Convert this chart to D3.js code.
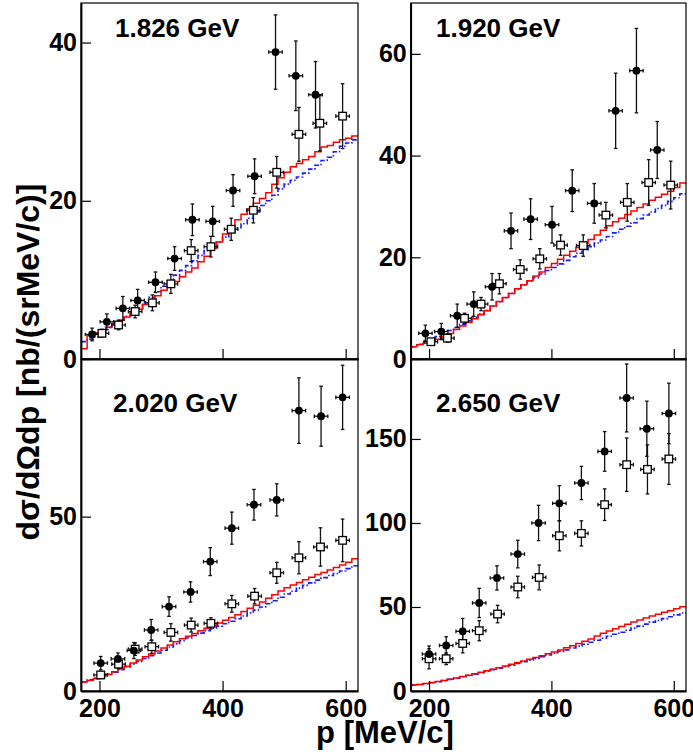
<!DOCTYPE html>
<html>
<head>
<meta charset="utf-8">
<script src="https://cdn.jsdelivr.net/npm/d3@7/dist/d3.min.js"></script>
<style>
  html, body { margin: 0; padding: 0; background: #fff; }
  svg text { font-family: "Liberation Sans", Arial, Helvetica, sans-serif; font-weight: bold; fill: #000; }
</style>
</head>
<body>
<svg id="chart" width="693" height="756"></svg>
<script>
// ---------- data ----------
const energies = ["1.826 GeV", "1.920 GeV", "2.020 GeV", "2.650 GeV"];
const xTicks = [200, 400, 600];
const yTicks = [[0, 20, 40], [0, 20, 40, 60], [0, 50], [0, 50, 100, 150]];
const yMax = [45, 70, 95.2, 197.6];
const xErr = 11; // horizontal half-width of the data points, MeV/c

// filled circles
const fullP = [
  [188, 212, 238, 262, 291, 322, 351, 384, 417, 452, 486, 519, 551],
  [194, 220, 246, 273, 303, 334, 366, 401, 434, 470, 505, 539, 573],
  [202, 230, 256, 284, 313, 348, 380, 415, 451, 488, 524, 560, 595],
  [200, 228, 255, 282, 311, 345, 379, 413, 449, 487, 523, 556, 592]
];
const fullV = [
  [3.1, 4.7, 6.4, 7.4, 9.7, 12.7, 17.6, 17.4, 21.3, 23.1, 38.8, 35.8, 33.4],
  [5.05, 5.4, 8.5, 10.8, 14.2, 25.2, 27.5, 26.4, 33.1, 30.6, 48.8, 56.7, 41.1],
  [8.0, 9.2, 11.6, 17.5, 24.2, 28.4, 37.1, 46.7, 53.4, 54.8, 80.4, 78.8, 84.2],
  [22.0, 27.1, 35.5, 52.4, 67.3, 81.5, 100.0, 111.7, 123.8, 142.6, 174.4, 156.1, 165.2]
];
const fullE = [
  [0.8, 1.0, 1.5, 1.4, 1.3, 1.5, 2.0, 1.9, 2.0, 2.2, 4.7, 4.4, 4.2],
  [1.6, 1.6, 2.3, 2.4, 2.6, 3.5, 4.0, 3.6, 4.1, 3.9, 7.4, 8.3, 5.6],
  [1.9, 1.7, 2.3, 3.0, 2.8, 2.9, 4.0, 4.6, 4.4, 4.6, 9.4, 8.6, 9.2],
  [4.8, 5.2, 7.7, 8.7, 7.2, 8.2, 10.5, 10.5, 9.9, 11.8, 20.2, 16.4, 18.0]
];

// open squares
const openP = [
  [204, 231, 258, 286, 316, 349, 381, 414, 450, 488, 524, 558, 595],
  [203, 230, 258, 285, 315, 349, 381, 415, 452, 489, 524, 559, 595],
  [202, 231, 258, 285, 316, 349, 381, 415, 452, 488, 524, 559, 595],
  [200, 228, 255, 282, 312, 345, 380, 413, 449, 487, 523, 557, 592]
];
const openV = [
  [3.25, 4.3, 6.0, 7.1, 9.5, 13.7, 14.2, 16.4, 18.8, 23.6, 28.4, 29.8, 30.7],
  [3.4, 4.1, 8.0, 10.8, 14.8, 17.6, 19.7, 22.4, 22.3, 28.3, 30.8, 34.7, 34.2],
  [4.6, 7.7, 12.0, 12.7, 16.8, 18.9, 19.4, 25.0, 27.2, 33.9, 38.2, 41.3, 43.2],
  [19.2, 19.2, 28.3, 35.9, 45.8, 61.9, 67.6, 92.4, 93.8, 110.9, 134.7, 131.9, 138.1]
];
const openE = [
  [0.5, 0.6, 0.8, 1.0, 1.2, 1.4, 1.3, 1.4, 1.6, 2.0, 3.4, 3.5, 4.1],
  [0.6, 0.8, 1.0, 1.3, 2.0, 1.9, 2.0, 2.0, 2.1, 2.5, 3.7, 4.5, 4.7],
  [1.0, 1.3, 1.8, 1.9, 2.5, 2.0, 1.6, 2.4, 2.2, 3.0, 4.6, 5.5, 6.1],
  [6.0, 3.5, 5.6, 6.0, 5.2, 6.4, 7.4, 9.0, 7.5, 9.4, 15.9, 14.6, 15.1]
];

// simulation histograms, 10 MeV/c bins from 170 to 620
const binLow = d3.range(170, 620, 10);
const binHigh = 620;
const redHist = [
  [1.3, 3.0, 3.3, 3.7, 4.0, 4.5, 4.9, 5.3, 5.8, 6.3, 6.9, 7.4, 8.0, 8.7, 9.3, 9.8, 10.4, 11.0, 11.5, 12.3,
   13.0, 14.0, 14.8, 15.8, 16.7, 17.6, 18.3, 19.0, 19.7, 20.3, 21.0, 22.1, 22.9, 23.6, 24.3, 24.7, 25.2, 25.6,
   26.2, 26.8, 27.0, 27.4, 27.7, 27.9, 28.2],
  [2.4, 2.8, 3.1, 3.5, 3.9, 4.4, 5.0, 5.8, 6.5, 7.2, 7.9, 8.7, 9.5, 10.4, 11.3, 12.1, 12.9, 13.8, 14.6, 15.4,
   16.3, 17.1, 18.0, 18.8, 19.6, 20.4, 21.2, 21.9, 22.7, 23.5, 24.4, 25.3, 26.2, 27.0, 27.7, 28.4, 29.1, 29.8,
   30.5, 31.2, 31.8, 32.4, 33.0, 33.7, 34.6],
  [2.6, 3.0, 3.5, 4.1, 4.7, 5.5, 6.3, 7.1, 8.0, 8.9, 9.8, 10.6, 11.5, 12.3, 13.2, 14.1, 15.0, 15.7, 16.5, 17.3,
   18.0, 18.8, 19.5, 20.3, 21.1, 21.9, 22.8, 23.7, 24.6, 25.5, 26.6, 27.6, 28.7, 29.6, 30.4, 31.1, 31.9, 32.6,
   33.4, 34.0, 34.7, 35.4, 36.1, 36.9, 37.9],
  [3.6, 3.9, 4.4, 5.0, 5.6, 6.3, 7.0, 7.8, 8.6, 9.4, 10.3, 11.2, 12.1, 13.0, 13.9, 14.9, 15.9, 16.9, 17.9, 18.9,
   19.9, 21.0, 22.1, 23.2, 24.4, 25.7, 27.0, 28.3, 29.6, 30.9, 32.8, 34.3, 35.7, 37.0, 38.4, 39.8, 41.1, 42.3,
   43.5, 44.6, 45.7, 46.8, 47.8, 48.9, 50.2]
];
const blueHist = [
  [2.2, 2.5, 2.8, 3.4, 4.0, 4.4, 4.9, 5.4, 5.9, 6.4, 7.1, 7.8, 8.5, 9.2, 9.9, 10.6, 11.2, 11.8, 12.4, 13.1,
   13.7, 14.3, 14.8, 15.4, 16.0, 16.6, 17.1, 17.8, 18.6, 19.4, 20.0, 20.7, 21.5, 22.1, 22.6, 23.0, 23.5, 24.0,
   24.5, 25.1, 25.5, 26.2, 26.9, 27.3, 27.7],
  [2.4, 2.9, 3.4, 3.9, 4.4, 4.9, 5.6, 6.2, 6.8, 7.5, 8.2, 8.9, 9.6, 10.4, 11.2, 12.0, 12.9, 13.7, 14.5, 15.3,
   16.0, 16.7, 17.4, 18.0, 18.7, 19.4, 20.1, 20.8, 21.5, 22.1, 22.8, 23.4, 24.1, 24.8, 25.5, 26.1, 26.8, 27.6,
   28.3, 28.9, 29.6, 30.2, 31.0, 31.7, 32.5],
  [2.6, 3.2, 3.8, 4.2, 4.8, 5.4, 6.1, 6.9, 7.7, 8.5, 9.3, 10.1, 10.9, 11.7, 12.6, 13.5, 14.4, 15.2, 15.9, 16.6,
   17.3, 18.0, 18.6, 19.3, 20.0, 20.7, 21.5, 22.4, 23.2, 24.1, 25.0, 25.9, 26.9, 27.8, 28.6, 29.5, 30.3, 31.0,
   31.8, 32.5, 33.1, 33.7, 34.4, 35.1, 35.9],
  [3.6, 3.9, 4.3, 4.9, 5.5, 6.2, 6.9, 7.6, 8.4, 9.2, 10.0, 10.9, 11.8, 12.7, 13.6, 14.5, 15.4, 16.4, 17.4, 18.4,
   19.4, 20.4, 21.4, 22.5, 23.5, 24.5, 25.6, 26.7, 27.8, 29.0, 30.2, 31.4, 32.6, 33.8, 35.0, 36.2, 37.4, 38.6,
   39.8, 41.0, 42.0, 43.1, 44.2, 45.3, 46.4]
];

// ---------- layout ----------
const panels = [
  { x0: 81, x1: 358, y0: 3, y1: 359, labelX: 115, labelY: 37, xLabels: false },
  { x0: 410.7, x1: 686, y0: 3, y1: 359, labelX: 436, labelY: 37, xLabels: false },
  { x0: 81, x1: 358, y0: 359, y1: 691, labelX: 113, labelY: 412, xLabels: true },
  { x0: 410.7, x1: 686, y0: 359, y1: 691, labelX: 436, labelY: 412, xLabels: true }
];

const svg = d3.select("#chart");
const tickFont = 25;

panels.forEach((pn, i) => {
  const x = d3.scaleLinear().domain([170, 620]).range([pn.x0, pn.x1]);
  const y = d3.scaleLinear().domain([0, yMax[i]]).range([pn.y1, pn.y0]);

  const g = svg.append("g").attr("class", "panel");

  const clipId = "clip" + i;
  svg.append("clipPath").attr("id", clipId)
    .append("rect")
    .attr("x", pn.x0).attr("y", pn.y0 - 40)
    .attr("width", pn.x1 - pn.x0).attr("height", pn.y1 - pn.y0 + 40);

  // histograms
  const stepLine = d3.line()
    .x(d => x(d[0]))
    .y(d => y(d[1]))
    .curve(d3.curveStepAfter);

  function histPoints(vals) {
    const pts = binLow.map((b, k) => [b, vals[k]]);
    pts.push([binHigh, vals[vals.length - 1]]);
    return pts;
  }

  g.append("path")
    .attr("clip-path", `url(#${clipId})`)
    .attr("d", stepLine(histPoints(blueHist[i])))
    .attr("fill", "none")
    .attr("stroke", "#1a1aff")
    .attr("stroke-width", 1.6)
    .attr("stroke-dasharray", "5,2,1.5,2");

  g.append("path")
    .attr("clip-path", `url(#${clipId})`)
    .attr("d", stepLine(histPoints(redHist[i])))
    .attr("fill", "none")
    .attr("stroke", "#ff0000")
    .attr("stroke-width", 1.5);

  // frame
  g.append("rect")
    .attr("x", pn.x0).attr("y", pn.y0)
    .attr("width", pn.x1 - pn.x0).attr("height", pn.y1 - pn.y0)
    .attr("fill", "none")
    .attr("stroke", "#000")
    .attr("stroke-width", 1.2);

  // axes
  const xAxis = d3.axisBottom(x)
    .tickValues(xTicks)
    .tickSizeInner(-10)
    .tickSizeOuter(0)
    .tickPadding(8)
    .tickFormat(pn.xLabels ? d3.format("d") : () => "");

  const xa = g.append("g")
    .attr("transform", `translate(0,${pn.y1})`)
    .call(xAxis);
  xa.select(".domain").attr("stroke-width", 1.8);
  xa.selectAll(".tick line").attr("stroke-width", 1.2);
  xa.selectAll("text").attr("font-size", tickFont).attr("font-family", null);

  const yAxis = d3.axisLeft(y)
    .tickValues(yTicks[i])
    .tickSizeInner(-10)
    .tickSizeOuter(0)
    .tickPadding(4)
    .tickFormat(d3.format("d"));

  const ya = g.append("g")
    .attr("transform", `translate(${pn.x0},0)`)
    .call(yAxis);
  ya.select(".domain").attr("stroke-width", 1.8);
  ya.selectAll(".tick line").attr("stroke-width", 1.2);
  ya.selectAll("text").attr("font-size", tickFont).attr("font-family", null);

  // data points
  const full = fullP[i].map((p, k) => ({ p, v: fullV[i][k], e: fullE[i][k] }));
  const open = openP[i].map((p, k) => ({ p, v: openV[i][k], e: openE[i][k] }));

  function errorBars(sel, data) {
    const eb = sel.append("g").attr("stroke", "#111").attr("stroke-width", 1.3);
    data.forEach(d => {
      const cx = x(d.p), cy = y(d.v);
      const top = y(d.v + d.e), bot = y(d.v - d.e);
      const l = x(d.p - xErr), r = x(d.p + xErr);
      eb.append("line").attr("x1", cx).attr("x2", cx).attr("y1", top).attr("y2", bot);
      eb.append("line").attr("x1", l).attr("x2", r).attr("y1", cy).attr("y2", cy);
      eb.append("line").attr("x1", cx - 1.8).attr("x2", cx + 1.8).attr("y1", top).attr("y2", top);
      eb.append("line").attr("x1", cx - 1.8).attr("x2", cx + 1.8).attr("y1", bot).attr("y2", bot);
      eb.append("line").attr("x1", l).attr("x2", l).attr("y1", cy - 1.8).attr("y2", cy + 1.8);
      eb.append("line").attr("x1", r).attr("x2", r).attr("y1", cy - 1.8).attr("y2", cy + 1.8);
    });
  }

  errorBars(g, open);
  errorBars(g, full);

  g.append("g").selectAll("rect")
    .data(open)
    .join("rect")
    .attr("x", d => x(d.p) - 3.8)
    .attr("y", d => y(d.v) - 3.8)
    .attr("width", 7.6)
    .attr("height", 7.6)
    .attr("fill", "#fff")
    .attr("stroke", "#000")
    .attr("stroke-width", 1.3);

  g.append("g").selectAll("circle")
    .data(full)
    .join("circle")
    .attr("cx", d => x(d.p))
    .attr("cy", d => y(d.v))
    .attr("r", 3.9)
    .attr("fill", "#000");

  // energy label
  g.append("text")
    .attr("x", pn.labelX)
    .attr("y", pn.labelY)
    .attr("font-size", 26)
    .text(energies[i]);
});

// axis titles
svg.append("text")
  .attr("x", 385)
  .attr("y", 743)
  .attr("text-anchor", "middle")
  .attr("font-size", 31)
  .text("p [MeV/c]");

svg.append("text")
  .attr("transform", "translate(39,362) rotate(-90)")
  .attr("text-anchor", "middle")
  .attr("font-size", 32)
  .text("dσ/dΩdp [nb/(srMeV/c)]");
</script>
</body>
</html>
